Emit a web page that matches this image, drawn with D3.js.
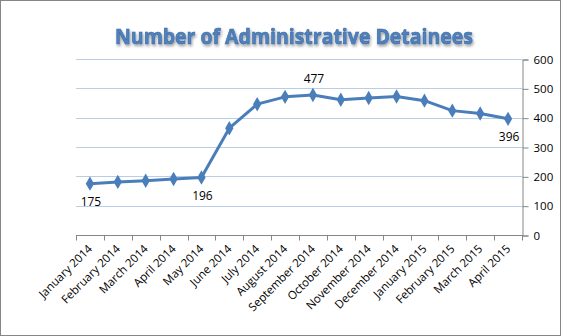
<!DOCTYPE html>
<html lang="en">
<head>
    <meta charset="UTF-8">
    <title>administrative-detainees</title>
    <script src="https://cdn.jsdelivr.net/npm/d3@7"></script>
    <style>
        body { margin: 0; background: #fff; }
        text { font-family: "Open Sans", "Liberation Sans", sans-serif; }
    </style>
</head>
<body>
    <svg class="chart"></svg>
</body>
<script>
    // data
    var months = ['January 2014', 'February 2014', 'March 2014', 'April 2014', 'May 2014',
        'June 2014', 'July 2014', 'August 2014', 'September 2014', 'October 2014',
        'November 2014', 'December 2014', 'January 2015', 'February 2015', 'March 2015', 'April 2015'];
    var detainees = [175, 181, 185, 191, 196, 364, 446, 471, 477, 461, 467, 472, 458, 424, 414, 396];
    var labelled = {0: 'below', 4: 'below', 8: 'above', 15: 'below'};
    var yTicks = [0, 100, 200, 300, 400, 500, 600];

    var width = 561, height = 336;
    var plotLeft = 76, plotRight = 522, plotTop = 59, plotBottom = 235;
    var blue = '#4a7ebb';

    var svg = d3.select('.chart')
        .attr('width', width)
        .attr('height', height);

    // frame
    svg.append('rect')
        .attr('x', 0.5).attr('y', 0.5)
        .attr('width', width - 1).attr('height', height - 1)
        .attr('fill', '#fff')
        .attr('stroke', '#868686');

    var x = d3.scaleBand().domain(months).range([plotLeft, plotRight]);
    var y = d3.scaleLinear().domain([0, 600]).range([plotBottom, plotTop]);

    // title with soft shadow
    var defs = svg.append('defs');
    var f = defs.append('filter').attr('id', 'glow').attr('x', '-10%').attr('y', '-30%')
        .attr('width', '120%').attr('height', '160%');
    f.append('feGaussianBlur').attr('in', 'SourceAlpha').attr('stdDeviation', 1.5).attr('result', 'b');
    f.append('feOffset').attr('in', 'b').attr('dx', 1).attr('dy', 1.5).attr('result', 'o');
    f.append('feComponentTransfer').attr('in', 'o').attr('result', 's')
        .append('feFuncA').attr('type', 'linear').attr('slope', 0.4);
    var m = f.append('feMerge');
    m.append('feMergeNode').attr('in', 's');
    m.append('feMergeNode').attr('in', 'SourceGraphic');

    svg.append('text')
        .attr('x', 294).attr('y', 44)
        .attr('text-anchor', 'middle')
        .attr('font-size', 22)
        .attr('font-weight', 'bold')
        .attr('fill', '#4f81bd')
        .attr('stroke', '#3a6aa5')
        .attr('stroke-width', 0.6)
        .attr('filter', 'url(#glow)')
        .attr('textLength', 358)
        .attr('lengthAdjust', 'spacingAndGlyphs')
        .text('Number of Administrative Detainees');

    // gridlines
    svg.append('g').selectAll('line')
        .data(yTicks.filter(function (d) { return d > 0; }))
        .enter().append('line')
        .attr('x1', plotLeft).attr('x2', plotRight)
        .attr('y1', function (d) { return Math.round(y(d)) + 0.5; })
        .attr('y2', function (d) { return Math.round(y(d)) + 0.5; })
        .attr('stroke', '#b9cde5');

    // right axis
    var yAxis = svg.append('g')
        .attr('transform', 'translate(' + (plotRight + 0.5) + ',0.5)')
        .call(d3.axisRight(y).tickValues(yTicks).tickSize(6).tickPadding(5));
    yAxis.select('.domain').attr('stroke', '#868686');
    yAxis.selectAll('.tick line').attr('stroke', '#868686');
    yAxis.selectAll('.tick text')
        .attr('font-size', 11.5)
        .attr('fill', '#000')
        .attr('font-family', '"Open Sans", "Liberation Sans", sans-serif');

    // bottom axis: ticks at band boundaries
    var xAxis = svg.append('g').attr('transform', 'translate(0,' + (plotBottom + 0.5) + ')');
    xAxis.append('line')
        .attr('x1', plotLeft).attr('x2', plotRight + 1)
        .attr('stroke', '#868686');
    var bounds = months.map(function (d) { return x(d); }).concat([plotRight]);
    xAxis.selectAll('.tk').data(bounds).enter().append('line')
        .attr('class', 'tk')
        .attr('x1', function (d) { return Math.round(d) + 0.5; })
        .attr('x2', function (d) { return Math.round(d) + 0.5; })
        .attr('y1', 0).attr('y2', 5)
        .attr('stroke', '#868686');
    xAxis.selectAll('.lbl').data(months).enter().append('text')
        .attr('class', 'lbl')
        .attr('transform', function (d) {
            return 'translate(' + (x(d) + x.bandwidth() / 2 + 3) + ',14) rotate(-45)';
        })
        .attr('text-anchor', 'end')
        .attr('font-size', 11.5)
        .attr('fill', '#000')
        .text(function (d) { return d; });

    // line
    var cx = function (d, i) { return x(months[i]) + x.bandwidth() / 2; };
    var line = d3.line()
        .x(cx)
        .y(function (d) { return y(d); });

    svg.append('path')
        .datum(detainees)
        .attr('d', line)
        .attr('fill', 'none')
        .attr('stroke', blue)
        .attr('stroke-width', 3)
        .attr('stroke-linejoin', 'round');

    var diamond = d3.symbol().type(d3.symbolDiamond).size(60);
    svg.append('g').selectAll('path')
        .data(detainees)
        .enter().append('path')
        .attr('d', diamond)
        .attr('transform', function (d, i) { return 'translate(' + cx(d, i) + ',' + y(d) + ')'; })
        .attr('fill', blue);

    // data labels
    svg.append('g').selectAll('text')
        .data(detainees.map(function (d, i) { return {v: d, i: i}; })
            .filter(function (d) { return labelled[d.i]; }))
        .enter().append('text')
        .attr('x', function (d) { return cx(d.v, d.i) + 1; })
        .attr('y', function (d) {
            return labelled[d.i] === 'above' ? y(d.v) - 12 : y(d.v) + 22;
        })
        .attr('text-anchor', 'middle')
        .attr('font-size', 12)
        .attr('fill', '#000')
        .text(function (d) { return d.v; });
</script>
</html>
